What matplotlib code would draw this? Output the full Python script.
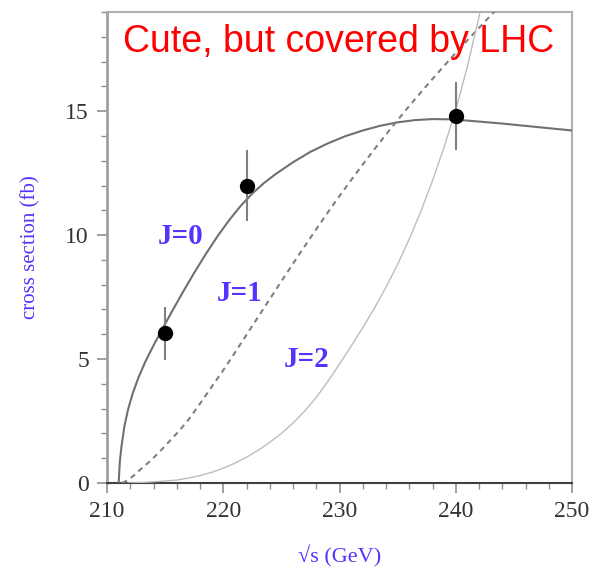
import numpy as np
import matplotlib
matplotlib.use('Agg')
import matplotlib.pyplot as plt
from matplotlib.ticker import MultipleLocator

# curves (sqrt(s) in GeV, cross section in fb)
j0_x = [211.0, 211.1, 211.25, 211.5, 211.8, 212.2, 212.7, 213.3, 214.0, 214.8,
        215.6, 216.5, 217.5, 218.5, 219.5, 220.5, 221.5, 222.5, 223.5, 224.5,
        226.0, 227.5, 229.0, 230.5, 232.0, 233.5, 235.0, 236.5, 238.0, 239.5,
        241.0, 242.5, 244.0, 245.5, 247.0, 248.5, 250.0]
j0_y = [0.0, 0.85, 1.5, 2.3, 2.95, 3.6, 4.25, 4.9, 5.55, 6.25,
        6.93, 7.68, 8.48, 9.24, 9.95, 10.6, 11.18, 11.68, 12.1, 12.46,
        12.94, 13.36, 13.7, 13.99, 14.22, 14.41, 14.55, 14.64, 14.68, 14.67,
        14.62, 14.56, 14.5, 14.43, 14.36, 14.29, 14.22]

j1_x = [211.3, 211.8, 212.3, 213.0, 213.8, 214.6, 215.4, 216.2, 217.0, 218.0,
        219.0, 220.0, 221.0, 222.0, 223.0, 224.0, 225.0, 226.0, 227.0, 228.0,
        229.0, 230.0, 231.0, 232.0, 233.0, 234.0, 235.0, 236.0, 237.0, 238.0,
        239.0, 240.0, 241.0, 242.0, 243.0, 244.0]
j1_y = [0.0, 0.12, 0.3, 0.6, 0.92, 1.3, 1.7, 2.1, 2.55, 3.2,
        3.88, 4.55, 5.26, 5.98, 6.7, 7.42, 8.14, 8.85, 9.55, 10.24,
        10.92, 11.58, 12.22, 12.85, 13.46, 14.06, 14.64, 15.21, 15.76, 16.3,
        16.83, 17.35, 17.86, 18.36, 18.86, 19.35]

j2_x = [211.8, 213.0, 214.0, 215.0, 216.0, 217.0, 218.0, 219.0, 220.0, 221.0,
        222.0, 223.0, 224.0, 225.0, 226.0, 227.0, 228.0, 229.0, 230.0, 231.0,
        232.0, 233.0, 234.0, 235.0, 236.0, 237.0, 238.0, 239.0, 240.0, 241.0,
        242.0, 242.5]
j2_y = [0.0, 0.02, 0.05, 0.08, 0.12, 0.2, 0.3, 0.43, 0.6, 0.8,
        1.04, 1.32, 1.64, 2.0, 2.42, 2.9, 3.45, 4.1, 4.8, 5.52,
        6.27, 7.05, 7.9, 8.82, 9.84, 10.96, 12.2, 13.55, 15.05, 16.8,
        18.8, 19.9]

# measured points
pt_x = [215, 222, 240]
pt_y = [6.04, 12.0, 14.8]
pt_err = [1.07, 1.45, 1.37]

serif = ['Liberation Serif', 'DejaVu Serif']
label_col = '#5533ff'

fig = plt.figure(figsize=(5.9, 5.74), dpi=100)
ax = fig.add_axes([0.1814, 0.1585, 0.7881, 0.8206])

ax.plot(j0_x, j0_y, color='#707070', lw=1.5, zorder=3)
ax.plot(j1_x, j1_y, color='#808080', lw=1.5, ls=(0, (2.6, 2.2)), zorder=3)
ax.plot(j2_x, j2_y, color='#bdbdbd', lw=1.0, zorder=3)

ax.errorbar(pt_x, pt_y, yerr=pt_err, fmt='o', color='black', ms=10,
            ecolor='#808080', elinewidth=1.5, capsize=0, zorder=5)

for txt, tx, ty in [('J=0', 216.3, 9.96), ('J=1', 221.4, 7.65), ('J=2', 227.2, 4.99)]:
    ax.text(tx, ty, txt, color=label_col, family=serif, weight='bold',
            fontsize=21, ha='center', va='center')

ax.text(0.034, 0.915, 'Cute, but covered by LHC', transform=ax.transAxes,
        color='red', family='Liberation Sans', fontsize=27, ha='left', va='baseline')

ax.set_xlim(210, 250)
ax.set_ylim(0, 19)
ax.xaxis.set_major_locator(MultipleLocator(10))
ax.xaxis.set_minor_locator(MultipleLocator(2))
ax.yaxis.set_major_locator(MultipleLocator(5))
ax.yaxis.set_minor_locator(MultipleLocator(1))

ax.tick_params(which='major', direction='out', length=7, width=1.2, color='#909090',
               labelsize=17, labelcolor='#333333', pad=6)
ax.tick_params(which='minor', direction='out', length=4, width=1.0, color='#909090')
for lab in ax.get_xticklabels() + ax.get_yticklabels():
    lab.set_family(serif)

ax.spines['left'].set_color('#a0a0a0')
ax.spines['left'].set_linewidth(2)
ax.spines['bottom'].set_color('#404040')
ax.spines['bottom'].set_linewidth(1.5)
for side in ['top', 'right']:
    ax.spines[side].set_color('#b0b0b0')
    ax.spines[side].set_linewidth(1.5)

ax.set_xlabel('√s (GeV)', color=label_col, family=serif, fontsize=16, labelpad=17)
ax.set_ylabel('cross section (fb)', color=label_col, family=serif, fontsize=15, labelpad=18)

fig.savefig('out.png', dpi=100)
